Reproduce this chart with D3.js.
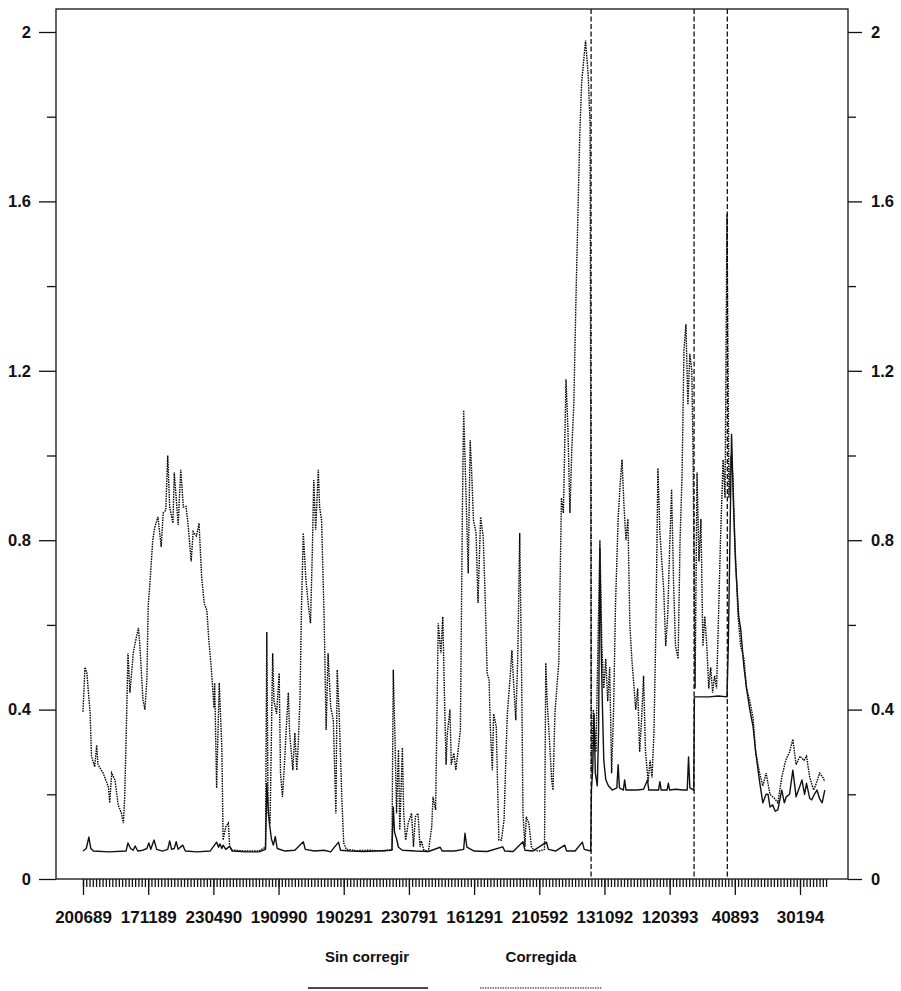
<!DOCTYPE html>
<html><head><meta charset="utf-8">
<script src="https://cdn.jsdelivr.net/npm/d3@7"></script>
<style>
body{margin:0;background:#fff}
text{font-family:"Liberation Sans",Arial,Helvetica,sans-serif;fill:#111}
</style></head>
<body><svg id="c" width="901" height="991"></svg>
<script>
// ---- data ----
const tickObs = [0,100,200,300,400,500,600,700,800,900,1000,1100];
const tickLabels = ["200689","171189","230490","190990","190291","230791","161291","210592","131092","120393","40893","30194"];
const yTicks = [0,0.4,0.8,1.2,1.6,2];
const yMinor = [0.2,0.6,1.0,1.4,1.8];
const breakObs = [779.5,937.5,988.5];
const seriesNames = ["Sin corregir","Corregida"];

const sinCorregirObs = [0,5,9,12,16,40,66,69,73,77,80,84,92,98,101,104,109,113,122,130,133,136,140,143,146,153,157,175,195,205,208,210,213,215,219,225,229,250,270,280,282,284,286,289,292,295,298,310,325,338,341,355,370,380,392,395,410,430,450,474,476,478,481,484,490,510,530,548,551,570,584,586,589,600,620,644,647,660,675,678,690,711,714,725,739,742,755,766,769,779,
780,782,784,786,789,791,793,795,797,799,802,806,812,819,821,823,829,831,833,850,860,866,868,883,885,887,896,898,900,910,920,927,929,931,937,
938,960,975,988,
990,992,995,998,1001,1006,1009,1014,1018,1023,1028,1032,1038,1043,1048,1051,1054,1058,1062,1066,1072,1076,1079,1084,1089,1092,1094,1100,1103,1107,1110,1115,1118,1122,1126,1130,1134,1138];
const sinCorregirVal = [0.066,0.072,0.099,0.072,0.066,0.064,0.066,0.085,0.072,0.068,0.078,0.066,0.068,0.072,0.085,0.07,0.092,0.07,0.066,0.07,0.09,0.07,0.072,0.088,0.07,0.08,0.066,0.064,0.066,0.087,0.075,0.083,0.072,0.08,0.07,0.077,0.066,0.064,0.064,0.07,0.226,0.17,0.132,0.095,0.08,0.10,0.072,0.066,0.068,0.088,0.07,0.066,0.068,0.064,0.087,0.068,0.066,0.065,0.066,0.068,0.17,0.11,0.095,0.075,0.068,0.066,0.065,0.075,0.066,0.066,0.07,0.108,0.075,0.066,0.065,0.076,0.066,0.065,0.088,0.068,0.066,0.087,0.07,0.066,0.08,0.066,0.066,0.087,0.07,0.066,
0.21,0.26,0.39,0.25,0.22,0.35,0.78,0.55,0.40,0.28,0.235,0.22,0.21,0.215,0.27,0.215,0.21,0.234,0.21,0.21,0.212,0.234,0.21,0.21,0.23,0.21,0.21,0.226,0.21,0.212,0.21,0.21,0.288,0.215,0.21,
0.43,0.43,0.432,0.43,
0.55,0.75,1.05,0.88,0.75,0.62,0.59,0.50,0.45,0.40,0.36,0.30,0.23,0.18,0.20,0.20,0.17,0.175,0.16,0.163,0.21,0.18,0.194,0.20,0.257,0.22,0.194,0.22,0.234,0.20,0.226,0.19,0.187,0.20,0.21,0.19,0.18,0.21];

const corregidaObs = [0,3,6,11,13,18,21,23,31,39,41,44,49,54,59,62,64,67,69,72,75,77,80,85,87,92,95,98,100,103,107,110,115,120,123,127,130,133,138,140,144,146,150,154,158,161,166,169,174,178,182,186,190,193,197,201,202,205,209,213,215,219,223,225,229,250,270,280,
282,284,287,291,293,297,301,303,306,309,312,315,317,322,325,328,330,333,335,338,342,346,349,352,354,357,361,363,366,370,373,376,380,384,388,390,393,397,400,404,420,440,460,474,
476,479,481,484,486,490,492,495,499,504,507,510,514,517,519,523,530,535,537,541,545,549,552,554,557,559,563,565,569,572,576,579,582,584,587,591,594,596,599,603,606,610,614,617,620,623,625,628,630,634,638,642,646,649,651,655,658,661,664,667,670,673,675,678,680,684,688,692,700,708,
710,712,715,719,721,724,727,730,734,737,741,744,747,750,753,756,759,762,765,768,771,775,778,
780,783,787,790,793,796,799,802,805,808,811,814,817,821,824,827,830,833,836,839,842,845,848,851,854,857,860,863,867,870,873,876,879,882,885,888,891,894,897,900,903,906,909,913,916,919,922,925,928,931,934,936,
939,942,945,948,951,954,957,960,963,966,969,972,975,978,982,985,988,
991,994,997,1000,1005,1009,1014,1018,1023,1028,1032,1038,1043,1048,1054,1061,1066,1072,1078,1084,1089,1094,1100,1106,1110,1115,1121,1126,1130,1135,1138];
const corregidaVal = [0.395,0.50,0.486,0.39,0.29,0.265,0.316,0.27,0.25,0.217,0.18,0.25,0.234,0.175,0.155,0.132,0.194,0.39,0.533,0.44,0.494,0.533,0.557,0.593,0.557,0.423,0.40,0.47,0.643,0.706,0.80,0.83,0.855,0.784,0.864,0.871,1.0,0.878,0.84,0.96,0.878,0.836,0.966,0.878,0.88,0.84,0.75,0.82,0.81,0.84,0.714,0.65,0.635,0.565,0.494,0.404,0.463,0.215,0.463,0.31,0.092,0.123,0.132,0.076,0.068,0.066,0.066,0.075,
0.583,0.155,0.13,0.533,0.42,0.39,0.486,0.25,0.194,0.27,0.36,0.44,0.345,0.257,0.345,0.257,0.31,0.43,0.628,0.817,0.706,0.643,0.604,0.784,0.942,0.824,0.966,0.878,0.848,0.612,0.352,0.533,0.406,0.375,0.155,0.494,0.39,0.194,0.085,0.07,0.067,0.068,0.066,0.07,
0.494,0.31,0.155,0.305,0.116,0.31,0.155,0.092,0.132,0.155,0.076,0.147,0.155,0.076,0.09,0.068,0.066,0.123,0.194,0.163,0.604,0.533,0.619,0.47,0.27,0.345,0.40,0.27,0.297,0.257,0.31,0.352,0.864,1.107,0.942,0.722,1.036,0.973,0.848,0.817,0.652,0.855,0.808,0.666,0.486,0.47,0.352,0.257,0.39,0.36,0.092,0.092,0.14,0.297,0.39,0.47,0.54,0.453,0.375,0.524,0.817,0.47,0.155,0.076,0.147,0.132,0.076,0.068,0.066,0.07,
0.51,0.423,0.345,0.234,0.21,0.39,0.453,0.51,0.90,0.864,1.18,1.06,0.864,1.02,1.12,1.35,1.55,1.75,1.88,1.93,1.98,1.90,1.78,
0.25,0.40,0.30,0.55,0.80,0.55,0.45,0.52,0.42,0.50,0.25,0.40,0.65,0.85,0.93,0.99,0.88,0.80,0.85,0.60,0.52,0.46,0.40,0.45,0.30,0.38,0.48,0.30,0.23,0.28,0.24,0.35,0.60,0.97,0.82,0.75,0.68,0.55,0.62,0.78,0.92,0.70,0.55,0.52,0.80,0.95,1.25,1.31,1.12,1.24,1.20,1.0,
0.45,0.96,0.75,0.85,0.55,0.62,0.55,0.45,0.50,0.44,0.48,0.45,0.62,0.80,0.99,0.90,1.57,
0.90,1.0,0.95,0.80,0.62,0.55,0.52,0.45,0.42,0.38,0.30,0.25,0.22,0.25,0.20,0.19,0.18,0.24,0.28,0.30,0.33,0.27,0.29,0.28,0.29,0.24,0.21,0.23,0.25,0.24,0.23];

// ---- chart ----
const svg = d3.select("#c");
const ink = "#111";
const x = d3.scaleLinear().domain([0,1100]).range([83,800]);
const y = d3.scaleLinear().domain([0,2]).range([879,32]);
const L = 56, R = 848, T = 9, B = 879;

// frame
svg.append("rect").attr("x",L).attr("y",T).attr("width",R-L).attr("height",B-T)
  .attr("fill","none").attr("stroke",ink).attr("stroke-width",1.3);

function styleAxis(g){
  g.select(".domain").remove();
  g.selectAll("line").attr("stroke",ink).attr("stroke-width",1.3);
  g.selectAll("text").attr("fill",ink).attr("font-size","16.5px").attr("font-weight","bold")
    .attr("font-family",'"Liberation Sans",Arial,sans-serif');
}
const fmt = d3.format("~g");
svg.append("g").attr("transform",`translate(${L},0)`)
  .call(d3.axisLeft(y).tickValues(yTicks).tickSize(17).tickPadding(8).tickFormat(fmt)).call(styleAxis);
svg.append("g").attr("transform",`translate(${L},0)`)
  .call(d3.axisLeft(y).tickValues(yMinor).tickSize(9).tickFormat("")).call(styleAxis);
svg.append("g").attr("transform",`translate(${R},0)`)
  .call(d3.axisRight(y).tickValues(yTicks).tickSize(14).tickPadding(9).tickFormat(fmt)).call(styleAxis);
svg.append("g").attr("transform",`translate(${R},0)`)
  .call(d3.axisRight(y).tickValues(yMinor).tickSize(8).tickFormat("")).call(styleAxis);

// x axis
svg.append("g").attr("transform",`translate(0,${B})`)
  .call(d3.axisBottom(x).tickValues(d3.range(0,1141,5)).tickSize(8).tickFormat("")).call(styleAxis);
const xa = svg.append("g").attr("transform",`translate(0,${B})`)
  .call(d3.axisBottom(x).tickValues(tickObs).tickSize(16).tickPadding(16).tickFormat((d,i)=>tickLabels[i])).call(styleAxis);
xa.selectAll("text").attr("font-size","17px");

// break lines
svg.append("g").selectAll("line").data(breakObs).join("line")
  .attr("x1",d=>x(d)).attr("x2",d=>x(d)).attr("y1",T).attr("y2",B)
  .attr("stroke",ink).attr("stroke-width",1.3).attr("stroke-dasharray","5,2.5");

const line = d3.line().x(d=>x(d[0])).y(d=>y(d[1]));
const corr = d3.zip(corregidaObs, corregidaVal);
const sinc = d3.zip(sinCorregirObs, sinCorregirVal);

svg.append("path").datum(corr).attr("d",line).attr("fill","none")
  .attr("stroke","#000").attr("stroke-width",1.4).attr("stroke-dasharray","1.5,1");
svg.append("path").datum(sinc).attr("d",line).attr("fill","none")
  .attr("stroke",ink).attr("stroke-width",1.4).attr("stroke-linejoin","round");

// legend
const leg = [{name:seriesNames[0],cx:367,x1:308,x2:428,dash:null,w:1.3},
             {name:seriesNames[1],cx:541,x1:480,x2:602,dash:"1.5,1",w:1.2}];
leg.forEach(l=>{
  svg.append("text").attr("x",l.cx).attr("y",962).attr("text-anchor","middle")
    .attr("font-size","15px").attr("font-weight","bold").text(l.name);
  const ln = svg.append("line").attr("x1",l.x1).attr("x2",l.x2).attr("y1",988).attr("y2",988)
    .attr("stroke",ink).attr("stroke-width",l.w);
  if(l.dash) ln.attr("stroke-dasharray",l.dash);
});
</script></body></html>
